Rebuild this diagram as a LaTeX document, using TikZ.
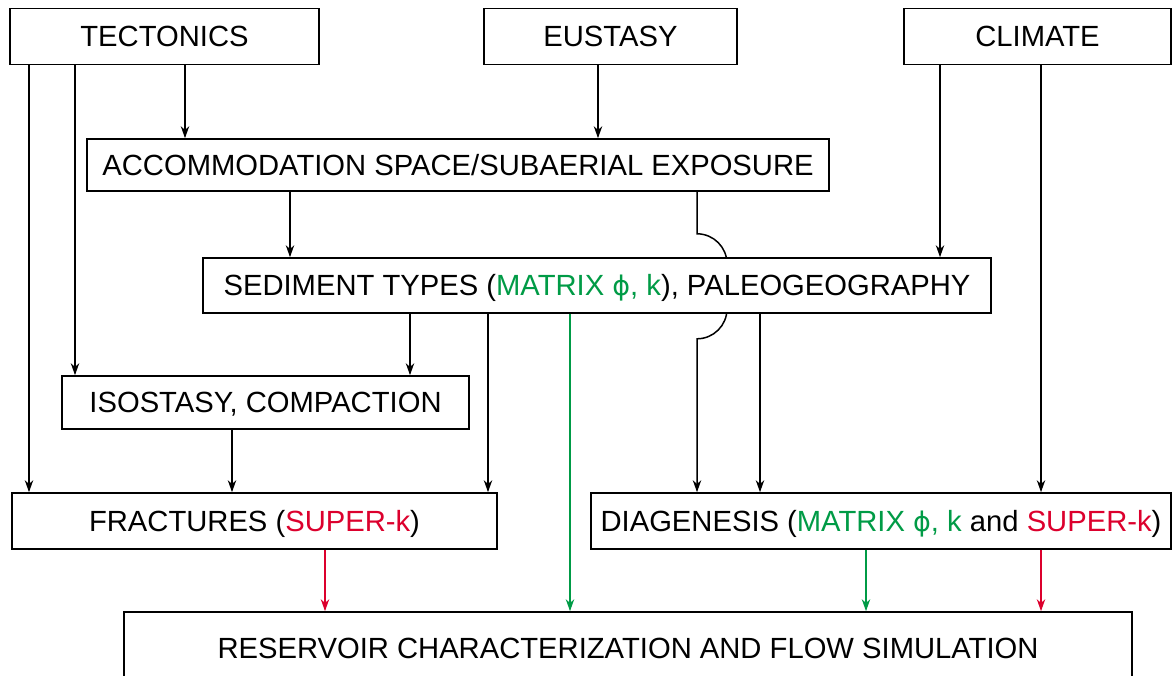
\documentclass[tikz,border=0pt]{standalone}
\usepackage{fontspec}
\setmainfont{Liberation Sans}
\newfontfamily\phifont{DejaVu Sans}
\definecolor{matgreen}{RGB}{0, 155, 70}
\definecolor{superred}{RGB}{220, 0, 45}
\newcommand{\matphi}{{\phifont\fontsize{13.5}{17}\selectfont ϕ}}
\usetikzlibrary{arrows.meta, positioning, backgrounds}

\begin{document}
\begin{tikzpicture}[x=0.5pt, y=0.5pt,
  box/.style={draw, line width=0.8pt, fill=white, inner sep=0pt, text height=10.4pt, text depth=0pt,
    font=\fontsize{14.6}{17}\selectfont},
  arr/.style={line width=0.75pt, -{Stealth[length=6pt, width=4.2pt]}}]
  \clip (0,0) rectangle (1173,-675);

  % top row
  \node[box, minimum width=154.5pt, minimum height=28pt] (tec) at (164.5,-36.5) {TECTONICS};
  \node[box, minimum width=126.5pt, minimum height=28pt] (eus) at (610.5,-36.5) {EUSTASY};
  \node[box, minimum width=133.5pt, minimum height=28pt] (cli) at (1037.5,-36.5) {CLIMATE};

  % middle
  \node[box, minimum width=371pt, minimum height=26pt] (acc) at (458,-165) {ACCOMMODATION SPACE/SUBAERIAL EXPOSURE};
  \node[box, minimum width=394pt, minimum height=27.5pt] (sed) at (597,-285.5)
    {SEDIMENT TYPES (\textcolor{matgreen}{MATRIX \matphi, k}), PALEOGEOGRAPHY};
  \node[box, minimum width=203.5pt, minimum height=26.5pt] (iso) at (265.5,-402.5) {ISOSTASY, COMPACTION};

  % lower row
  \node[box, minimum width=242.5pt, minimum height=28pt] (frac) at (254.5,-521)
    {FRACTURES (\textcolor{superred}{SUPER-k})};
  \node[box, minimum width=290pt, minimum height=28pt] (diag) at (881,-521)
    {DIAGENESIS (\textcolor{matgreen}{MATRIX \matphi, k} and \textcolor{superred}{SUPER-k})};
  \node[box, minimum width=504pt, minimum height=36pt] (res) at (628,-648)
    {RESERVOIR CHARACTERIZATION AND FLOW SIMULATION};

  % columns
  \coordinate (ca) at (29,0);
  \coordinate (cb) at (75,0);
  \coordinate (cc) at (185,0);
  \coordinate (cd) at (598,0);
  \coordinate (ce) at (940,0);
  \coordinate (cf) at (1041,0);
  \coordinate (cg) at (290,0);
  \coordinate (ch) at (697,0);
  \coordinate (ci) at (410,0);
  \coordinate (cj) at (488,0);
  \coordinate (ck) at (570,0);
  \coordinate (cl) at (760,0);
  \coordinate (cm) at (232,0);
  \coordinate (cn) at (325,0);
  \coordinate (co) at (866,0);

  % tectonics, eustasy, climate
  \draw[arr] (tec.south -| ca) -- (frac.north -| ca);
  \draw[arr] (tec.south -| cb) -- (iso.north -| cb);
  \draw[arr] (tec.south -| cc) -- (acc.north -| cc);
  \draw[arr] (eus.south -| cd) -- (acc.north -| cd);
  \draw[arr] (cli.south -| ce) -- (sed.north -| ce);
  \draw[arr] (cli.south -| cf) -- (diag.north -| cf);

  % accommodation
  \draw[arr] (acc.south -| cg) -- (sed.north -| cg);
  \begin{scope}[on background layer]
    \draw[arr] (acc.south -| ch) -- ++(0,-42)
      arc[start angle=90, end angle=0, radius=15pt] -- ++(0,-45)
      arc[start angle=0, end angle=-90, radius=15pt] -- (diag.north -| ch);
  \end{scope}

  % sediment types
  \draw[arr] (sed.south -| ci) -- (iso.north -| ci);
  \draw[arr] (sed.south -| cj) -- (frac.north -| cj);
  \draw[arr, matgreen] (sed.south -| ck) -- (res.north -| ck);
  \draw[arr] (sed.south -| cl) -- (diag.north -| cl);
  \draw[arr] (iso.south -| cm) -- (frac.north -| cm);

  % into reservoir
  \draw[arr, superred] (frac.south -| cn) -- (res.north -| cn);
  \draw[arr, matgreen] (diag.south -| co) -- (res.north -| co);
  \draw[arr, superred] (diag.south -| cf) -- (res.north -| cf);
\end{tikzpicture}
\end{document}
